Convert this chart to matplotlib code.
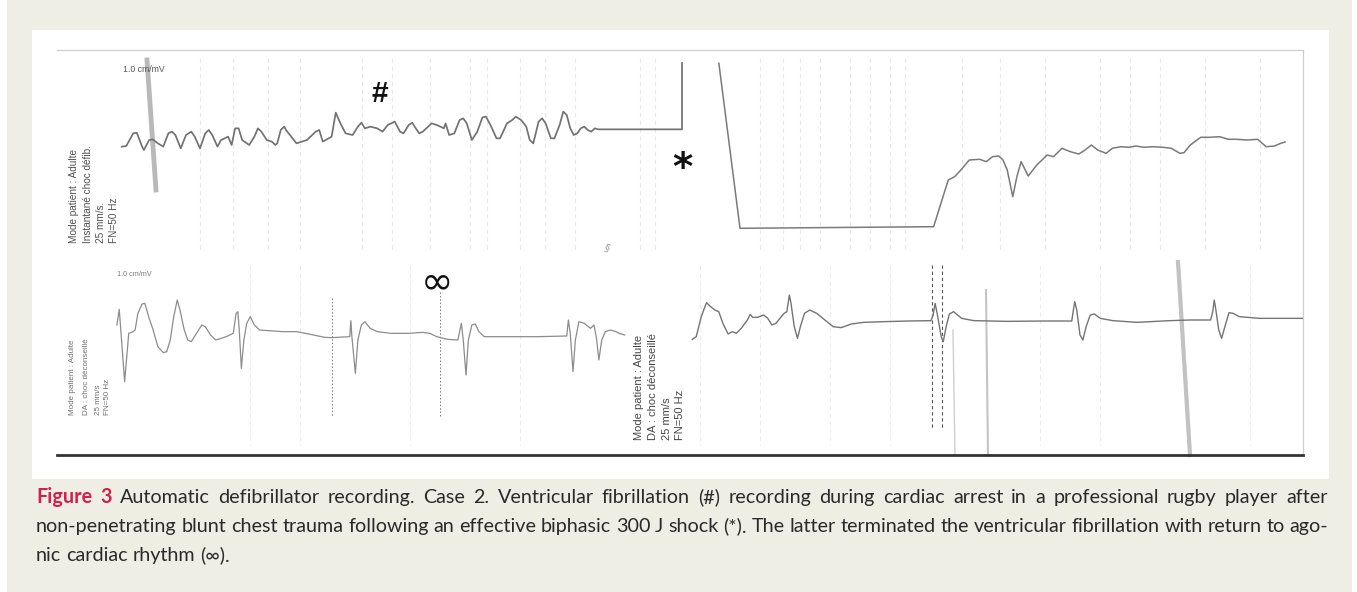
import matplotlib
matplotlib.use("Agg")
import matplotlib.pyplot as plt
from matplotlib.patches import Rectangle
from matplotlib.lines import Line2D

W, H = 1357, 592

# ---------------- data (time in ms, amplitude in microvolts) ----------------
# Top strip: ventricular fibrillation (#) then flat line and shock saturation (*)
vf_t = [518, 554, 610, 638, 681, 695, 737, 765, 807, 850, 891, 919, 947, 990, 1032,
        1074, 1102, 1144, 1186, 1214, 1242, 1284, 1312, 1341, 1369, 1397, 1425, 1453,
        1481, 1537, 1579, 1607, 1635, 1678, 1719, 1747, 1762, 1790, 1818, 1832, 1874,
        1916, 1958, 2000, 2042, 2070, 2098, 2126, 2197, 2230, 2267, 2309, 2365, 2407,
        2435, 2463, 2506, 2562, 2604, 2646, 2702, 2744, 2772, 2814, 2842, 2870, 2898,
        2926, 2969, 2997, 3038, 3067, 3095, 3109, 3137, 3179, 3221, 3250, 3278, 3319,
        3362, 3404, 3432, 3474, 3516, 3544, 3600, 3642, 3670, 3713, 3754, 3782, 3810,
        3853, 3881, 3909, 3951, 3979, 4021, 4050, 4078, 4106, 4134, 4162, 4190, 4218,
        4246, 4274, 4302, 4330, 5000, 5000]
vf_v = [-373, -360, -107, -93, -373, -440, -240, -227, -307, -373, -107, -73, -140, -407, -140,
        -73, -173, -407, -107, -40, -140, -373, -240, -207, -173, -340, -7, -7,
        -240, -340, -173, -7, -73, -240, -273, -340, -307, -40, 27, -40, -173,
        -307, -273, -240, -140, -73, -40, -273, -173, 307, 93, -107, -140, 27,
        107, -7, 27, -7, -73, 60, 127, -73, -107, 60, 107, -7, -107,
        -73, 27, 93, 60, 27, -7, 93, -140, -107, 160, 193, 93, -240,
        -73, 213, 227, 27, -207, -207, 93, 160, 227, 160, 27, -240, -307,
        127, 193, 93, -207, -207, 60, 327, 260, -7, -140, -107, -7, 27,
        -40, -73, -7, -27, -27, 1300]

# Top strip after the shock: saturated descent, flat line, return of activity
post_t = [5295, 5464, 7013, 7063, 7130, 7181, 7231, 7298, 7383, 7434, 7484, 7534, 7568,
          7602, 7646, 7679, 7713, 7770, 7838, 7922, 7972, 8039, 8107, 8174, 8225, 8275,
          8326, 8393, 8443, 8511, 8578, 8629, 8696, 8763, 8847, 8915, 8982, 9016, 9066,
          9150, 9218, 9302, 9370, 9437, 9521, 9605, 9673, 9740, 9790, 9824]
post_v = [1294, -2006, -1974, -1574, -1040, -974, -840, -640, -626, -674, -574, -560, -640,
          -840, -1374, -974, -674, -960, -740, -540, -574, -406, -474, -520, -440, -340,
          -440, -506, -406, -374, -386, -360, -386, -374, -386, -406, -506, -494, -340,
          -186, -186, -174, -226, -226, -240, -226, -374, -360, -306, -280]

# Bottom-left strip: agonic rhythm (infinity sign)
bl_t = [479, 498, 541, 574, 610, 625, 647, 681, 703, 737, 765, 807, 850, 878, 906, 934,
        962, 984, 1018, 1046, 1074, 1116, 1158, 1186, 1228, 1270, 1313, 1354, 1410, 1433,
        1447, 1458, 1475, 1495, 1518, 1546, 1579, 1621, 1691, 1804, 1916, 2028, 2141,
        2197, 2342, 2351, 2359, 2387, 2407, 2435, 2463, 2506, 2562, 2674, 2814, 2926,
        2982, 3038, 3123, 3207, 3235, 3250, 3272, 3291, 3319, 3347, 3375, 3418, 3572,
        3853, 4078, 4091, 4106, 4128, 4147, 4175, 4218, 4268, 4296, 4316, 4335, 4358,
        4386, 4428, 4470, 4498, 4541]
bl_v = [300, 613, -833, 133, 167, 200, 533, 720, 733, 433, 233, -133, -253, -233, 0, 467,
        800, 600, 200, 0, -33, 133, 300, 267, 100, 0, 33, 67, 133, 533,
        567, 200, -567, 0, 333, 467, 300, 200, 187, 167, 167, 113, 53,
        47, 67, 387, 67, -667, 0, 300, 367, 233, 167, 133, 133, 153,
        133, 67, 13, 0, 333, 0, -700, 0, 300, 320, 167, 67, 67,
        67, 80, 400, 133, -633, 0, 367, 333, 233, 300, 33, -400, 0,
        167, 200, 167, 133, 100]

# Bottom-right strip
br_t = [514, 546, 586, 628, 661, 694, 726, 759, 801, 834, 866, 906, 955, 978, 997, 1037,
        1085, 1118, 1151, 1183, 1216, 1249, 1271, 1291, 1304, 1330, 1356, 1379, 1412,
        1454, 1510, 1575, 1641, 1706, 1787, 1885, 2049, 2245, 2424, 2441, 2457, 2473,
        2506, 2522, 2545, 2571, 2604, 2669, 2767, 3028, 3354, 3550, 3561, 3574, 3590,
        3616, 3639, 3665, 3698, 3730, 3779, 3878, 4073, 4334, 4498, 4661, 4678, 4690,
        4703, 4726, 4749, 4775, 4808, 4841, 4890, 5053, 5249, 5406]
br_v = [-387, -333, 67, 347, 267, 200, 167, -67, -280, -233, -267, -167, 0, 113, 53, 53,
        100, 33, -100, -67, 33, 133, 167, 500, 333, -133, -367, -133, 133,
        200, 133, 0, -133, -153, -80, -47, -33, -20, -13, 100, 333, 133,
        -333, -433, -133, 120, 167, 33, -13, -27, -20, -20, 167, 367, 200,
        -300, -400, -133, 100, 120, 33, -13, -47, -13, 0, 0, 167, 400,
        200, -200, -367, -133, 147, 133, 67, 33, 33, 33]

# Printed annotations on the strips
top_labels = ["Mode patient : Adulte", "Instantané choc défib.", "25 mm/s.", "FN=50 Hz"]
bl_labels = ["Mode patient : Adulte", "DA : choc déconseillé", "25 mm/s", "FN=50 Hz"]
br_labels = ["Mode patient : Adulte", "DA : choc déconseillé", "25 mm/s", "FN=50 Hz"]
gain_label = "1.0 cm/mV"

caption_lead = "Figure 3"
caption_lines = [
    "Automatic defibrillator recording. Case 2. Ventricular fibrillation (#) recording during cardiac arrest in a professional rugby player after",
    "non-penetrating blunt chest trauma following an effective biphasic 300 J shock (*). The latter terminated the ventricular fibrillation with return to ago-",
    "nic cardiac rhythm (\u221e).",
]

# ---------------- figure ----------------
BEIGE = "#EFEEE4"
fig = plt.figure(figsize=(W / 100, H / 100), dpi=100)
fig.patch.set_facecolor("white")


def fx(x):
    return x / W


def fy(y):
    return 1 - y / H


def frect(x0, y0, x1, y1, **kw):
    fig.patches.append(Rectangle((fx(x0), fy(y1)), (x1 - x0) / W, (y1 - y0) / H,
                                 transform=fig.transFigure, figure=fig, **kw))


def fline(xs, ys, **kw):
    fig.lines.append(Line2D([fx(x) for x in xs], [fy(y) for y in ys],
                            transform=fig.transFigure, figure=fig, **kw))


def ftext(x, y, s, **kw):
    return fig.text(fx(x), fy(y), s, **kw)


def px_axes(x0, y0, x1, y1):
    ax = fig.add_axes([fx(x0), fy(y1), (x1 - x0) / W, (y1 - y0) / H])
    ax.set_axis_off()
    ax.patch.set_alpha(0)
    ax.set_zorder(3)
    return ax


# backgrounds
frect(7, 0, 1352, H, facecolor=BEIGE, edgecolor="none", zorder=0)
frect(32, 30, 1329, 479, facecolor="white", edgecolor="none", zorder=0.5)

# faint scanned paper marks
faint_x = [200, 233, 268, 300, 362, 392, 430, 470, 487, 520, 545, 575, 640, 655,
           760, 783, 800, 820, 850, 870, 890, 905, 962, 1000, 1045, 1100, 1130,
           1160, 1205, 1260]
for x in faint_x:
    fline([x, x], [58, 250], color="#e9e9e9", lw=0.8, dashes=(4, 3), zorder=1)
for x in [250, 300, 410, 520, 700, 760, 830, 890, 1040, 1100, 1250]:
    fline([x, x], [265, 445], color="#ededed", lw=0.8, dashes=(4, 3), zorder=1)

# smudges / artefacts of the scan
fline([147, 156], [60, 190], color="#a8a8a8", lw=3.5, alpha=0.8, zorder=1.5)
fline([986, 988], [290, 455], color="#c4c4c4", lw=1.5, zorder=1.5)
fline([953, 955], [330, 455], color="#cfcfcf", lw=1.0, zorder=1.5)
fline([1178, 1190], [262, 455], color="#b8b8b8", lw=3.0, alpha=0.85, zorder=1.5)
fline([332, 332], [298, 416], color="#7a7a7a", lw=0.7, dashes=(1.5, 2), zorder=1.5)
fline([440, 440], [292, 416], color="#7a7a7a", lw=0.7, dashes=(1.5, 2), zorder=1.5)
fline([932, 932], [265, 430], color="#555555", lw=0.8, dashes=(3, 2.5), zorder=1.5)
fline([942, 942], [265, 430], color="#555555", lw=0.8, dashes=(3, 2.5), zorder=1.5)
ftext(607, 248, "§", fontsize=8, color="#a0a0a0", rotation=-25, ha="center", va="center")

# frame of the recording
fline([57, 1303], [50, 50], color="#cfcfcf", lw=0.9, zorder=2)
fline([1303, 1303], [50, 455], color="#cfcfcf", lw=0.9, zorder=2)
fline([57, 1303], [455, 455], color="#333333", lw=2.0, zorder=2)

# ---------------- traces ----------------
ax_top = px_axes(57, 50, 1303, 258)
ax_top.set_xlim(0, 9968)
ax_top.set_ylim(-2600, 1560)
ax_top.plot(vf_t, vf_v, color="#727272", lw=1.25, solid_joinstyle="round")
ax_top.plot(post_t, post_v, color="#7a7a7a", lw=1.1, solid_joinstyle="round")

ax_bl = px_axes(57, 258, 628, 455)
ax_bl.set_xlim(0, 4568)
ax_bl.set_ylim(-2300, 1640)
ax_bl.plot(bl_t, bl_v, color="#8c8c8c", lw=0.9, solid_joinstyle="round")

ax_br = px_axes(628, 258, 1303, 455)
ax_br.set_xlim(0, 5400)
ax_br.set_ylim(-2700, 1240)
ax_br.plot(br_t, br_v, color="#747474", lw=1.0, solid_joinstyle="round")

# ---------------- printed labels ----------------
LAB = ["Liberation Sans", "DejaVu Sans"]
for x, s in zip([74, 88, 101, 114], top_labels):
    ftext(x, 243, s, rotation=90, ha="center", va="bottom", fontsize=7.2,
          color="#505050", family=LAB)
for x, s in zip([73, 86, 98, 108], bl_labels):
    ftext(x, 415, s, rotation=90, ha="center", va="bottom", fontsize=5.8,
          color="#707070", family=LAB)
for x, s in zip([639, 653, 667, 680], br_labels):
    ftext(x, 440, s, rotation=90, ha="center", va="bottom", fontsize=8,
          color="#454545", family=LAB)
ftext(123, 69, gain_label, ha="left", va="center", fontsize=6.3, color="#555555", family=LAB)
ftext(117, 275, gain_label, ha="left", va="center", fontsize=5.2, color="#7a7a7a", family=LAB)

# event markers
ftext(380, 102, "#", ha="center", va="baseline", fontsize=21.5, fontweight="bold",
      color="#111111", family=LAB)
ftext(682, 180, "*", ha="center", va="baseline", fontsize=28, fontweight="bold",
      color="#111111", family=["DejaVu Sans"])
ftext(437, 293, "\u221e", ha="center", va="baseline", fontsize=28,
      color="#111111", family=["DejaVu Sans"])

# ---------------- caption (justified) ----------------
renderer = fig.canvas.get_renderer()
CAP = ["Lato", "DejaVu Sans"]
LEFT, RIGHT = 36, 1328
baselines = [503, 532, 561]
RED = "#D31F4B"
TXT = "#2a2a2a"


def measure(s, fs, bold=False):
    t = fig.text(0, 0, s, fontsize=fs, family=CAP, fontweight="bold" if bold else "normal")
    w = t.get_window_extent(renderer=renderer).width
    t.remove()
    return w


def line_words(i):
    words = [(w, False) for w in caption_lines[i].split(" ")]
    if i == 0:
        words = [(w, True) for w in caption_lead.split(" ")] + words
    return words


fs = 15.0
while fs > 9:
    sp = measure("a a", fs) - measure("aa", fs)
    ok = True
    for i in range(2):
        ws = line_words(i)
        tot = sum(measure(w, fs, b) for w, b in ws) + sp * 0.95 * (len(ws) - 1)
        if tot > RIGHT - LEFT:
            ok = False
    if ok:
        break
    fs -= 0.1

sp = measure("a a", fs) - measure("aa", fs)
for i in range(3):
    ws = line_words(i)
    widths = [measure(w, fs, b) for w, b in ws]
    if i < 2:
        gap = (RIGHT - LEFT - sum(widths)) / (len(ws) - 1)
    else:
        gap = sp
    x = LEFT
    for (w, b), wd in zip(ws, widths):
        ftext(x, baselines[i], w, ha="left", va="baseline", fontsize=fs, family=CAP,
              fontweight="bold" if b else "normal", color=RED if b else TXT)
        x += wd + gap

fig.savefig("out.png", dpi=100, facecolor=fig.get_facecolor())
